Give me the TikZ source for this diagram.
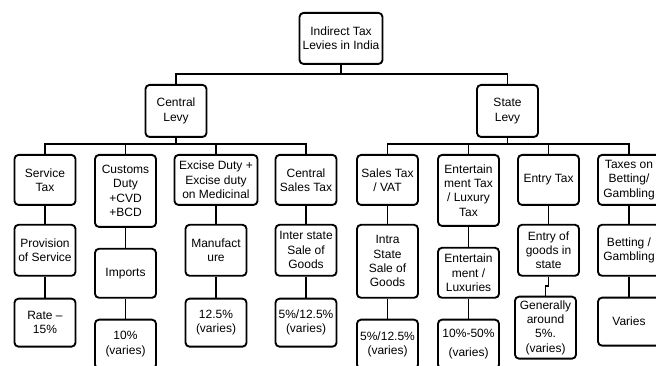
\documentclass[tikz,border=0pt]{standalone}
\usepackage{fontspec}
\setmainfont{Liberation Sans}
\usetikzlibrary{positioning}
\newcommand{\px}{0.75pt}

\begin{document}
\begin{tikzpicture}
[
x=\px, y=-\px,
box-a/.style={draw, rounded corners=3pt, line width=1.4pt, align=center, inner sep=1pt,
              font=\fontsize{9}{10.8}\selectfont, minimum width=61*\px, anchor=north},
link-a/.style={line width=1.4pt}
]
\useasboundingbox (0,0) rectangle (656,366);
\clip (0,0) rectangle (656,366);
% top levels
\node (root)    [box-a, minimum width=83*\px, minimum height=51*\px] at (341,12)  {Indirect Tax\\Levies in India};
\node (levy-c)  [box-a, minimum height=52*\px] at (176,84)   {Central\\Levy};
\node (levy-s)  [box-a, minimum height=52*\px] at (507.5,84) {State\\Levy};
% central heads
\node (head-c1) [box-a, minimum height=50*\px] at (45,154)    {Service\\Tax};
\node (head-c2) [box-a, minimum height=72*\px] at (125.5,154) {Customs\\Duty\\+CVD\\+BCD};
\node (head-c3) [box-a, minimum height=50*\px, minimum width=83*\px] at (216,154) {Excise Duty +\\Excise duty\\on Medicinal};
\node (head-c4) [box-a, minimum height=50*\px] at (306,154)   {Central\\Sales Tax};
% state heads
\node (head-s1) [box-a, minimum height=50*\px] at (387.5,154) {Sales Tax\\/ VAT};
\node (head-s2) [box-a, minimum height=71*\px] at (468.5,154) {Entertain\\ment Tax\\/ Luxury\\Tax};
\node (head-s3) [box-a, minimum height=50*\px] at (548.5,154) {Entry Tax};
\node (head-s4) [box-a, minimum height=50*\px, minimum width=62*\px] at (629,154) {Taxes on\\Betting/\\Gambling};
% base of each tax
\node (cell-c1) [box-a, minimum height=51*\px, below = 13.50pt of head-c1] {Provision\\of Service};
\node (cell-c2) [box-a, minimum height=49*\px, below = 15.00pt of head-c2] {Imports};
\node (cell-c3) [box-a, minimum height=51*\px, below = 13.50pt of head-c3] {Manufact\\ure};
\node (cell-c4) [box-a, minimum height=51*\px, below = 13.50pt of head-c4] {Inter state\\Sale of\\Goods};
\node (cell-s1) [box-a, minimum height=73*\px, below = 13.50pt of head-s1] {Intra\\State\\Sale of\\Goods};
\node (cell-s2) [box-a, minimum height=50*\px, below = 15.00pt of head-s2] {Entertain\\ment /\\Luxuries};
\node (cell-s3) [box-a, minimum height=51*\px, below = 13.50pt of head-s3] {Entry of\\goods in\\state};
\node (cell-s4) [box-a, minimum height=51*\px, minimum width=62*\px, below = 13.50pt of head-s4] {Betting /\\Gambling};
% rates
\node (rate-c1) [box-a, minimum height=48*\px, below = 15.75pt of cell-c1] {Rate --\\15\%};
\node (rate-c2) [box-a, minimum height=49*\px, below = 15.00pt of cell-c2] {10\%\\(varies)};
\node (rate-c3) [box-a, minimum height=48*\px, below = 15.75pt of cell-c3] {12.5\%\\(varies)};
\node (rate-c4) [box-a, minimum height=48*\px, below = 15.75pt of cell-c4] {5\%/12.5\%\\(varies)};
\node (rate-s1) [box-a, minimum height=49*\px, below = 15.00pt of cell-s1] {5\%/12.5\%\\(varies)};
\node (rate-s2) [box-a, minimum height=49*\px, below = 15.00pt of cell-s2] {10\%-50\%\\[4pt](varies)};
\node (rate-s3) [box-a, minimum height=62*\px, inner sep=0pt, below = 14.25pt of cell-s3, xshift=-3*\px] {Generally\\around\\5\%.\\(varies)};
\node (rate-s4) [box-a, minimum height=48*\px, minimum width=62*\px, below = 15.00pt of cell-s4] {Varies};
% connectors
\draw[link-a] (root.south) -- ++(0,9) coordinate (bus-0);
\draw[link-a] (levy-c.north) |- (bus-0) -| (levy-s.north);
\draw[link-a] (levy-c.south) -- ++(0,6) coordinate (bus-c);
\draw[link-a] (head-c1.north) |- (bus-c) -| (head-c4.north);
\draw[link-a] (levy-s.south) -- ++(0,6) coordinate (bus-s);
\draw[link-a] (head-s1.north) |- (bus-s) -| (head-s4.north);
\foreach \n in {head-c2, head-c3, head-s2, head-s3}
  \draw[link-a] (\n.north) -- (\n.north |- bus-c);
\foreach \a/\b in {head-c1/cell-c1, head-c2/cell-c2, head-c3/cell-c3, head-c4/cell-c4,
                   head-s1/cell-s1, head-s2/cell-s2, head-s3/cell-s3, head-s4/cell-s4,
                   cell-c1/rate-c1, cell-c2/rate-c2, cell-c3/rate-c3, cell-c4/rate-c4,
                   cell-s1/rate-s1, cell-s2/rate-s2, cell-s4/rate-s4}
  \draw[link-a] (\a.south) -- (\b.north);
\draw[link-a] (cell-s3.south) -- ++(0,9) -| (rate-s3.north);
\end{tikzpicture}
\end{document}
